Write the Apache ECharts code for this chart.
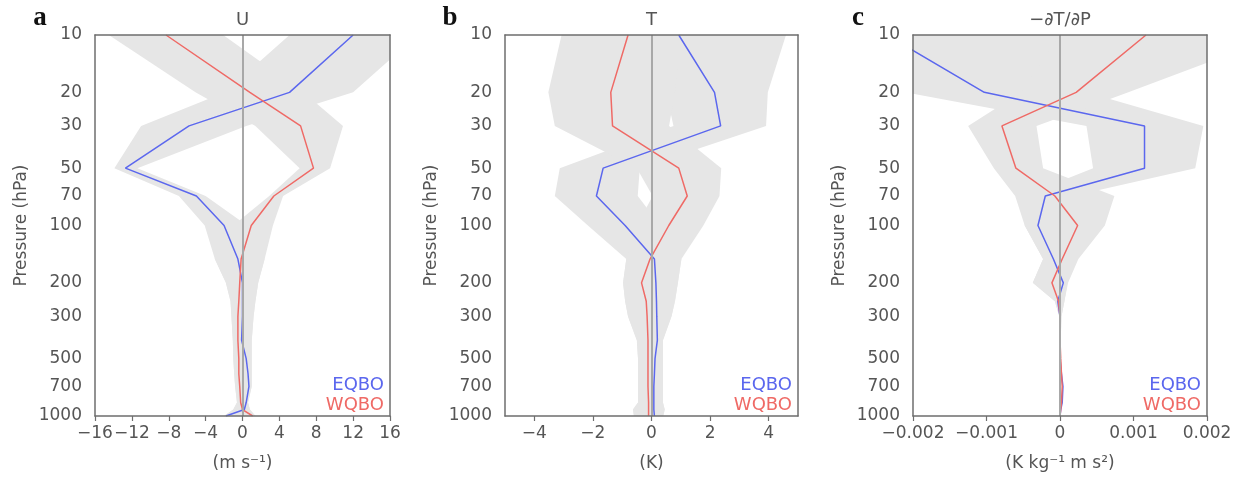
<!DOCTYPE html>
<html><head><meta charset="utf-8">
<script src="https://cdn.jsdelivr.net/npm/echarts@6/dist/echarts.min.js"></script>
<style>html,body{margin:0;padding:0;background:#fff}#c{width:1239px;height:477px}</style>
</head><body><div id="c"></div>
<script>
// ---------- DATA ----------
const levels = [10,20,30,50,70,100,150,200,250,300,400,500,600,700,850,925,1000];
const pressureTicks = [10,20,30,50,70,100,200,300,500,700,1000];

// Panel a: U (m s-1)
const uTicks = [-16,-12,-8,-4,0,4,8,12,16];
const uEQBO   = [12.0, 5.1, -5.8, -12.7, -5.0, -2.0, -0.5, 0.0, 0.0, 0.0, -0.1, 0.4, 0.6, 0.7, 0.4, 0.2, -1.8];
const uWQBO   = [-8.3, 0.8, 6.3, 7.7, 3.4, 0.95, -0.15, -0.3, -0.4, -0.5, -0.5, -0.4, -0.4, -0.3, -0.2, 0.0, 1.1];
const uEQBOlo = [5.1, -1.9, -11.0, -13.9, -6.9, -4.1, -3.0, -1.8, -1.3, -1.2, -1.05, -1.0, -0.9, -0.8, -0.6, -1.0, -2.0];
const uEQBOhi = [19.0, 12.0, 0.4, -11.4, -4.0, 0.5, 2.4, 1.7, 1.4, 1.2, 1.0, 1.0, 1.0, 1.0, 0.6, 0.8, 1.4];
const uWQBOlo = [-14.5, -5.1, 1.4, 6.2, 2.9, -1.0, -3.0, -1.8, -1.3, -1.2, -1.05, -1.0, -0.9, -0.8, -0.6, -1.0, -2.0];
const uWQBOhi = [-2.1, 6.6, 10.9, 9.5, 4.4, 3.3, 2.4, 1.7, 1.4, 1.2, 1.0, 1.0, 1.0, 1.0, 0.6, 0.8, 1.4];

// Panel b: T (K)
const tTicks = [-4,-2,0,2,4];
const tEQBO   = [0.93, 2.15, 2.36, -1.65, -1.88, -0.9, 0.1, 0.15, 0.17, 0.18, 0.2, 0.12, 0.1, 0.08, 0.08, 0.08, 0.1];
const tWQBO   = [-0.8, -1.39, -1.33, 0.93, 1.22, 0.59, -0.05, -0.34, -0.18, -0.15, -0.12, -0.12, -0.12, -0.12, -0.1, -0.1, -0.1];
const tEQBOlo = [0.0, 0.5, 0.75, -3.13, -3.3, -2.17, -0.86, -0.97, -0.9, -0.8, -0.5, -0.46, -0.46, -0.46, -0.46, -0.63, -0.6];
const tEQBOhi = [4.59, 3.97, 3.91, -0.4, -0.47, 0.3, 1.02, 0.9, 0.8, 0.68, 0.39, 0.39, 0.39, 0.39, 0.39, 0.45, 0.4];
const tWQBOlo = [-3.07, -3.52, -3.30, -0.5, 0.04, -0.5, -0.86, -0.97, -0.9, -0.8, -0.5, -0.46, -0.46, -0.46, -0.46, -0.63, -0.6];
const tWQBOhi = [1.0, 0.8, 0.6, 2.38, 2.32, 1.77, 1.02, 0.9, 0.8, 0.68, 0.39, 0.39, 0.39, 0.39, 0.39, 0.45, 0.4];

// Panel c: -dT/dP (K kg-1 m s2)
const gTicks = [-0.002,-0.001,0,0.001,0.002];
const gEQBO   = [-0.00236, -0.00103, 0.00115, 0.00115, -0.0002, -0.0003, -0.00009, 0.000045, -0.00003, 0.0, 0.0, 0.0, 0.00002, 0.00004, 0.00003, 0.00001, 0.0];
const gWQBO   = [0.00117, 0.00022, -0.00079, -0.0006, -0.00007, 0.00024, 0.00003, -0.00011, -0.00002, 0.0, 0.0, 0.00001, 0.00002, 0.00003, 0.00002, 0.00001, 0.0];
const gEQBOlo = [-0.0035, -0.0021, 0.00036, 0.00045, -0.0005, -0.00048, -0.00023, -0.00037, -0.00007, -0.00001, -0.000005, -0.000005, -0.000005, -0.000005, -0.000005, -0.000005, -0.000005];
const gEQBOhi = [0.0005, 0.00036, 0.00195, 0.00184, 0.00017, 0.0003, 0.0001, 0.0001, 0.00006, 0.00002, 0.00001, 0.00001, 0.00001, 0.00001, 0.00001, 0.00001, 0.00001];
const gWQBOlo = [0.0, -0.00053, -0.00125, -0.0009, -0.00061, -0.00048, -0.00023, -0.00037, -0.00007, -0.00001, -0.000005, -0.000005, -0.000005, -0.000005, -0.000005, -0.000005, -0.000005];
const gWQBOhi = [0.003, 0.00093, -0.00032, -0.00023, 0.00074, 0.00061, 0.00025, 0.00011, 0.00006, 0.00002, 0.00001, 0.00001, 0.00001, 0.00001, 0.00001, 0.00001, 0.00001];

// ---------- STYLE ----------
const BLUE = '#5b67ee', RED = '#ef6a66', SHADE = '#e6e6e6', TXT = '#555555', BOX = '#6e6e6e';
const FONT = 'DejaVu Sans';

const panels = [
  {key:'a', title:'U', unit:'(m s\u207B\u00B9)', min:-16, max:16, ticks:uTicks, e:uEQBO, w:uWQBO,
   elo:uEQBOlo, ehi:uEQBOhi, wlo:uWQBOlo, whi:uWQBOhi, grid:{left:95, top:35, width:295, height:381}},
  {key:'b', title:'T', unit:'(K)', min:-5, max:5, ticks:tTicks, e:tEQBO, w:tWQBO,
   elo:tEQBOlo, ehi:tEQBOhi, wlo:tWQBOlo, whi:tWQBOhi, grid:{left:505, top:35, width:293, height:381}},
  {key:'c', title:'\u2212\u2202T/\u2202P', unit:'(K kg\u207B\u00B9 m s\u00B2)', min:-0.002, max:0.002, ticks:gTicks, e:gEQBO, w:gWQBO,
   elo:gEQBOlo, ehi:gEQBOhi, wlo:gWQBOlo, whi:gWQBOhi, grid:{left:913, top:35, width:294, height:381}}
];

const lp = levels.map(p => Math.log10(p));
function fmtX(v) {
  let s;
  if (Math.abs(v) < 1e-12) s = '0';
  else if (Math.abs(v) < 0.01) s = v.toFixed(3);
  else s = String(v);
  return s.replace('-', '\u2212');
}

const grids = [], xAxes = [], yAxes = [], series = [], graphics = [];
panels.forEach((P, i) => {
  grids.push(Object.assign({show:false, containLabel:false}, P.grid));
  const lineX = {show:true, onZero:false, lineStyle:{color:BOX, width:1.5}};
  xAxes.push({type:'value', gridIndex:i, position:'bottom', min:P.min, max:P.max, z:10,
    axisLine:lineX, splitLine:{show:false},
    axisTick:{show:true, inside:false, length:5, customValues:P.ticks, lineStyle:{color:BOX, width:1.2}},
    axisLabel:{customValues:P.ticks, formatter:fmtX, color:TXT, fontFamily:FONT, fontSize:17, margin:9},
    name:P.unit, nameLocation:'middle', nameGap:39,
    nameTextStyle:{color:TXT, fontFamily:FONT, fontSize:17}});
  xAxes.push({type:'value', gridIndex:i, position:'top', min:P.min, max:P.max, z:10,
    axisLine:lineX, axisTick:{show:false}, axisLabel:{show:false}, splitLine:{show:false}});
  yAxes.push({type:'value', gridIndex:i, position:'left', min:1, max:3, inverse:true, z:10,
    axisLine:lineX, splitLine:{show:false}, axisTick:{show:false},
    axisLabel:{customValues:pressureTicks.map(p => Math.log10(p)),
      formatter:v => String(Math.round(Math.pow(10, v))),
      color:TXT, fontFamily:FONT, fontSize:17, margin:13},
    name:'Pressure (hPa)', nameLocation:'middle', nameRotate:90, nameGap:65,
    nameTextStyle:{color:TXT, fontFamily:FONT, fontSize:17}});
  yAxes.push({type:'value', gridIndex:i, position:'right', min:1, max:3, inverse:true, z:10,
    axisLine:lineX, axisTick:{show:false}, axisLabel:{show:false}, splitLine:{show:false}});

  const band = (lo, hi) => ({
    type:'custom', xAxisIndex:2*i, yAxisIndex:2*i, clip:true, silent:true, z:1,
    data: levels.map((p, k) => [lo[k], hi[k], lp[k]]),
    encode:{x:[0,1], y:2},
    renderItem: function(params, api) {
      if (params.dataIndex !== 0) return null;
      const pts = [];
      for (let k = 0; k < levels.length; k++) pts.push(api.coord([lo[k], lp[k]]));
      for (let k = levels.length - 1; k >= 0; k--) pts.push(api.coord([hi[k], lp[k]]));
      return {type:'polygon', shape:{points:pts}, style:{fill:SHADE, stroke:null}};
    }
  });
  series.push(band(P.elo, P.ehi));
  series.push(band(P.wlo, P.whi));
  series.push({type:'line', xAxisIndex:2*i, yAxisIndex:2*i, data:[], z:2, silent:true,
    markLine:{silent:true, symbol:['none','none'], label:{show:false},
      lineStyle:{color:'#a8a8a8', width:2, type:'solid'}, data:[{xAxis:0}]}});
  [[P.e, BLUE, 'EQBO'], [P.w, RED, 'WQBO']].forEach(([vals, col, nm]) => {
    series.push({type:'line', name:nm, xAxisIndex:2*i, yAxisIndex:2*i, z:3, silent:true,
      data: vals.map((v, k) => [v, lp[k]]), showSymbol:false, symbol:'none',
      lineStyle:{color:col, width:1.5}, clip:true, animation:false});
  });

  const g = P.grid, cx = g.left + g.width / 2, right = g.left + g.width - 6;
  graphics.push({type:'text', x:cx, y:20, style:{text:P.title, fill:TXT, font:'18px "' + FONT + '"',
    textAlign:'center', textVerticalAlign:'middle', align:'center', verticalAlign:'middle'}});
  graphics.push({type:'text', x:g.left - 55, y:18, style:{text:P.key, fill:'#111', font:'bold 27px "Liberation Serif"',
    textAlign:'center', textVerticalAlign:'middle', align:'center', verticalAlign:'middle'}});
  graphics.push({type:'text', x:right, y:385, style:{text:'EQBO', fill:BLUE, font:'18px "' + FONT + '"',
    textAlign:'right', textVerticalAlign:'middle', align:'right', verticalAlign:'middle'}});
  graphics.push({type:'text', x:right, y:405, style:{text:'WQBO', fill:RED, font:'18px "' + FONT + '"',
    textAlign:'right', textVerticalAlign:'middle', align:'right', verticalAlign:'middle'}});
});

const chart = echarts.init(document.getElementById('c'), null, {renderer:'canvas'});
chart.setOption({
  animation:false, backgroundColor:'#ffffff',
  grid:grids, xAxis:xAxes, yAxis:yAxes, series:series, graphic:graphics
});
</script>
</body></html>
